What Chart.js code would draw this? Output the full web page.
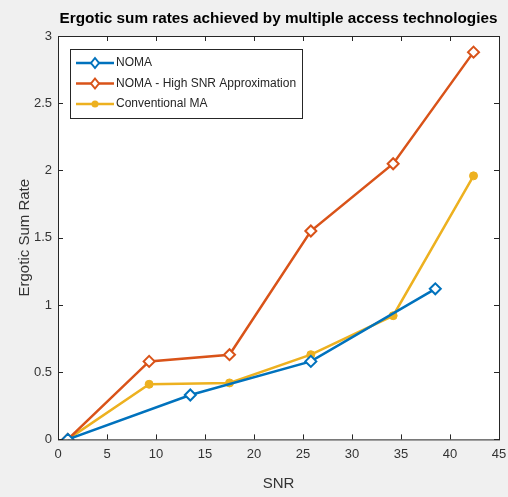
<!DOCTYPE html>
<html>
<head>
<meta charset="utf-8">
<script src="https://cdn.jsdelivr.net/npm/chart.js@4"></script>
<style>
  html, body { margin: 0; padding: 0; background: #f0f0f0; }
  #wrap { width: 508px; height: 497px; }
</style>
</head>
<body>
<div id="wrap"><canvas id="chart" width="508" height="497"></canvas></div>
<script>
// data
const nomaSnr = [1, 13.5, 25.8, 38.5];
const nomaRate = [0, 0.33, 0.58, 1.12];
const approxSnr = [1, 9.3, 17.5, 25.8, 34.2, 42.4];
const approxRate = [0, 0.58, 0.63, 1.55, 2.05, 2.88];
const convSnr = [1, 9.3, 17.5, 25.8, 34.2, 42.4];
const convRate = [0, 0.41, 0.42, 0.63, 0.92, 1.96];
const seriesNames = ['NOMA', 'NOMA - High SNR Approximation', 'Conventional MA'];
const xTicks = [0, 5, 10, 15, 20, 25, 30, 35, 40, 45];
const yTicks = [0, 0.5, 1, 1.5, 2, 2.5, 3];
const chartTitle = 'Ergotic sum rates achieved by multiple access technologies';

const FONT = '"Liberation Sans", Arial, sans-serif';
const toPts = (xs, ys) => xs.map((x, i) => ({ x: x, y: ys[i] }));

// MATLAB style: box, inward ticks on all four sides, legend inside the axes,
// title centred over the axes
const matlabAxes = {
  id: 'matlabAxes',
  beforeDraw(chart) {
    const { ctx, chartArea: a } = chart;
    ctx.save();
    ctx.fillStyle = '#fff';
    ctx.fillRect(a.left, a.top, a.right - a.left, a.bottom - a.top);
    ctx.restore();
  },
  afterDraw(chart) {
    const { ctx, chartArea: a, scales } = chart;
    ctx.save();
    ctx.fillStyle = '#000';
    ctx.font = 'bold 15.3px ' + FONT;
    ctx.textAlign = 'center';
    ctx.textBaseline = 'middle';
    ctx.fillText(chartTitle, (a.left + a.right) / 2, 19);
    ctx.textAlign = 'left';

    ctx.strokeStyle = '#262626';
    ctx.lineWidth = 1;
    ctx.strokeRect(a.left + 0.5, a.top + 0.5, a.right - a.left, a.bottom - a.top);
    ctx.beginPath();
    xTicks.forEach(v => {
      const px = Math.round(scales.x.getPixelForValue(v)) + 0.5;
      ctx.moveTo(px, a.bottom); ctx.lineTo(px, a.bottom - 5);
      ctx.moveTo(px, a.top); ctx.lineTo(px, a.top + 5);
    });
    yTicks.forEach(v => {
      const py = Math.round(scales.y.getPixelForValue(v)) + 0.5;
      ctx.moveTo(a.left, py); ctx.lineTo(a.left + 5, py);
      ctx.moveTo(a.right, py); ctx.lineTo(a.right - 5, py);
    });
    ctx.stroke();

    // legend box
    const lx = a.left + 12, ly = a.top + 13, lw = 232, lh = 69;
    ctx.fillStyle = '#fff';
    ctx.fillRect(lx, ly, lw, lh);
    ctx.strokeStyle = '#262626';
    ctx.strokeRect(lx + 0.5, ly + 0.5, lw, lh);
    ctx.font = '12px ' + FONT;
    chart.data.datasets.forEach((ds, i) => {
      const y = ly + 14 + i * 20.5;
      ctx.strokeStyle = ds.borderColor;
      ctx.lineWidth = 2.5;
      ctx.beginPath();
      ctx.moveTo(lx + 6, y); ctx.lineTo(lx + 44, y);
      ctx.stroke();
      const mx = lx + 25;
      ctx.lineWidth = 2;
      if (ds.pointStyle === 'rectRot') {
        ctx.fillStyle = '#fff';
        ctx.beginPath();
        ctx.moveTo(mx, y - 5); ctx.lineTo(mx + 4, y); ctx.lineTo(mx, y + 5); ctx.lineTo(mx - 4, y); ctx.closePath();
        ctx.fill(); ctx.stroke();
      } else {
        ctx.fillStyle = ds.borderColor;
        ctx.beginPath(); ctx.arc(mx, y, 3.5, 0, Math.PI * 2); ctx.fill();
      }
      ctx.fillStyle = '#262626';
      ctx.fillText(ds.label, lx + 46, y);
    });
    ctx.restore();
  }
};

new Chart(document.getElementById('chart'), {
  type: 'line',
  data: {
    datasets: [
      { label: seriesNames[0], data: toPts(nomaSnr, nomaRate), borderColor: '#0072BD', backgroundColor: '#fff',
        pointStyle: 'rectRot', pointRadius: 5.5, pointBorderWidth: 2, borderWidth: 2.5 },
      { label: seriesNames[1], data: toPts(approxSnr, approxRate), borderColor: '#D95319', backgroundColor: '#fff',
        pointStyle: 'rectRot', pointRadius: 5.5, pointBorderWidth: 2, borderWidth: 2.5 },
      { label: seriesNames[2], data: toPts(convSnr, convRate), borderColor: '#EDB120', backgroundColor: '#EDB120',
        pointStyle: 'circle', pointRadius: 4, pointBorderWidth: 1, borderWidth: 2.5 }
    ]
  },
  options: {
    responsive: false,
    animation: false,
    layout: { padding: { left: 16, right: 9, top: 36, bottom: 0 } },
    plugins: {
      legend: { display: false },
      tooltip: { enabled: false },
      title: { display: false }
    },
    scales: {
      x: {
        type: 'linear', min: 0, max: 45,
        afterBuildTicks: s => { s.ticks = xTicks.map(v => ({ value: v })); },
        afterFit: s => { s.paddingLeft = 0; s.paddingRight = 0; },
        ticks: { color: '#333', font: { family: FONT, size: 13 }, padding: 7 },
        grid: { display: false, drawTicks: false },
        border: { display: false },
        title: { display: true, text: 'SNR', color: '#333', font: { family: FONT, size: 15 }, padding: { top: 6 } }
      },
      y: {
        type: 'linear', min: 0, max: 3,
        afterBuildTicks: s => { s.ticks = yTicks.map(v => ({ value: v })); },
        afterFit: s => { s.width = 42; },
        ticks: { color: '#333', font: { family: FONT, size: 13 }, padding: 6, callback: v => String(v) },
        grid: { display: false, drawTicks: false },
        border: { display: false },
        title: { display: true, text: 'Ergotic Sum Rate', color: '#333', font: { family: FONT, size: 15 }, padding: { top: 0, bottom: 0 } }
      }
    }
  },
  plugins: [matlabAxes]
});
</script>
</body>
</html>
